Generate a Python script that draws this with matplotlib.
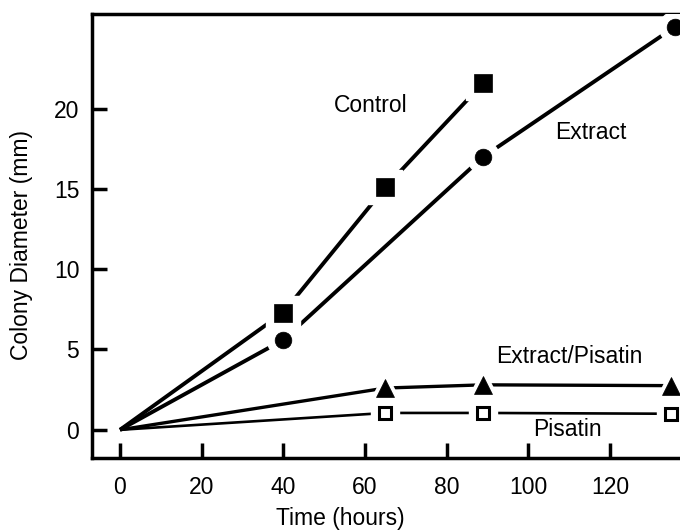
import matplotlib
matplotlib.use("Agg")
import matplotlib.pyplot as plt

plt.rcParams['font.family'] = ['Liberation Sans', 'DejaVu Sans']

# データ
control_t = [0, 40, 65, 89]
control_d = [0, 7.3, 15.1, 21.6]

extract_t = [0, 40, 89, 136]
extract_d = [0, 5.6, 17.0, 25.1]

expis_t = [0, 65, 89, 135]
expis_d = [0, 2.6, 2.8, 2.75]

pisatin_t = [0, 65, 89, 135]
pisatin_d = [0, 1.05, 1.05, 1.0]

xticks = [0, 20, 40, 60, 80, 100, 120]
yticks = [0, 5, 10, 15, 20]

fig = plt.figure(figsize=(6.8, 5.3), dpi=100)
ax = fig.add_axes([0.135, 0.136, 0.912, 0.838])

series = [
    (control_t, control_d, 's', 13, 'black', 2.8),
    (extract_t, extract_d, 'o', 12, 'black', 2.8),
    (expis_t, expis_d, '^', 13, 'black', 2.4),
    (pisatin_t, pisatin_d, 's', 9, 'white', 1.9),
]

for t, d, m, ms, fc, lw in series:
    # 線
    ax.plot(t, d, color='black', lw=lw, zorder=2, solid_capstyle='butt')
    # マーカー周りの白い隙間
    ax.plot(t[1:], d[1:], ls='none', marker=m, ms=ms + 11, mfc='white',
            mec='white', zorder=3)
    # マーカー
    ax.plot(t[1:], d[1:], ls='none', marker=m, ms=ms, mfc=fc,
            mec='black', mew=2.2 if fc == 'white' else 0.5, zorder=4)

# ラベル
fs = 16.5
ax.text(61.3, 20.2, 'Control', fontsize=fs, ha='center', va='center')
ax.text(115.4, 18.5, 'Extract', fontsize=fs, ha='center', va='center')
ax.text(110, 4.55, 'Extract/Pisatin', fontsize=fs, ha='center', va='center')
ax.text(109.6, 0.0, 'Pisatin', fontsize=fs, ha='center', va='center',
        zorder=5)

ax.set_xlim(-6.9, 145)
ax.set_ylim(-1.75, 25.9)
ax.set_xticks(xticks)
ax.set_yticks(yticks)
ax.tick_params(direction='in', length=11, width=2.5, labelsize=fs, pad=9)
ax.tick_params(axis='x', pad=13)

for s in ['left', 'top', 'bottom']:
    ax.spines[s].set_linewidth(2.5)
ax.spines['right'].set_visible(False)

ax.set_xlabel('Time (hours)', fontsize=fs, va='center')
ax.xaxis.set_label_coords(0.4, -0.137)
ax.set_ylabel('Colony Diameter (mm)', fontsize=fs, va='center')
ax.yaxis.set_label_coords(-0.113, 0.48)

fig.savefig('out.png', dpi=100)
